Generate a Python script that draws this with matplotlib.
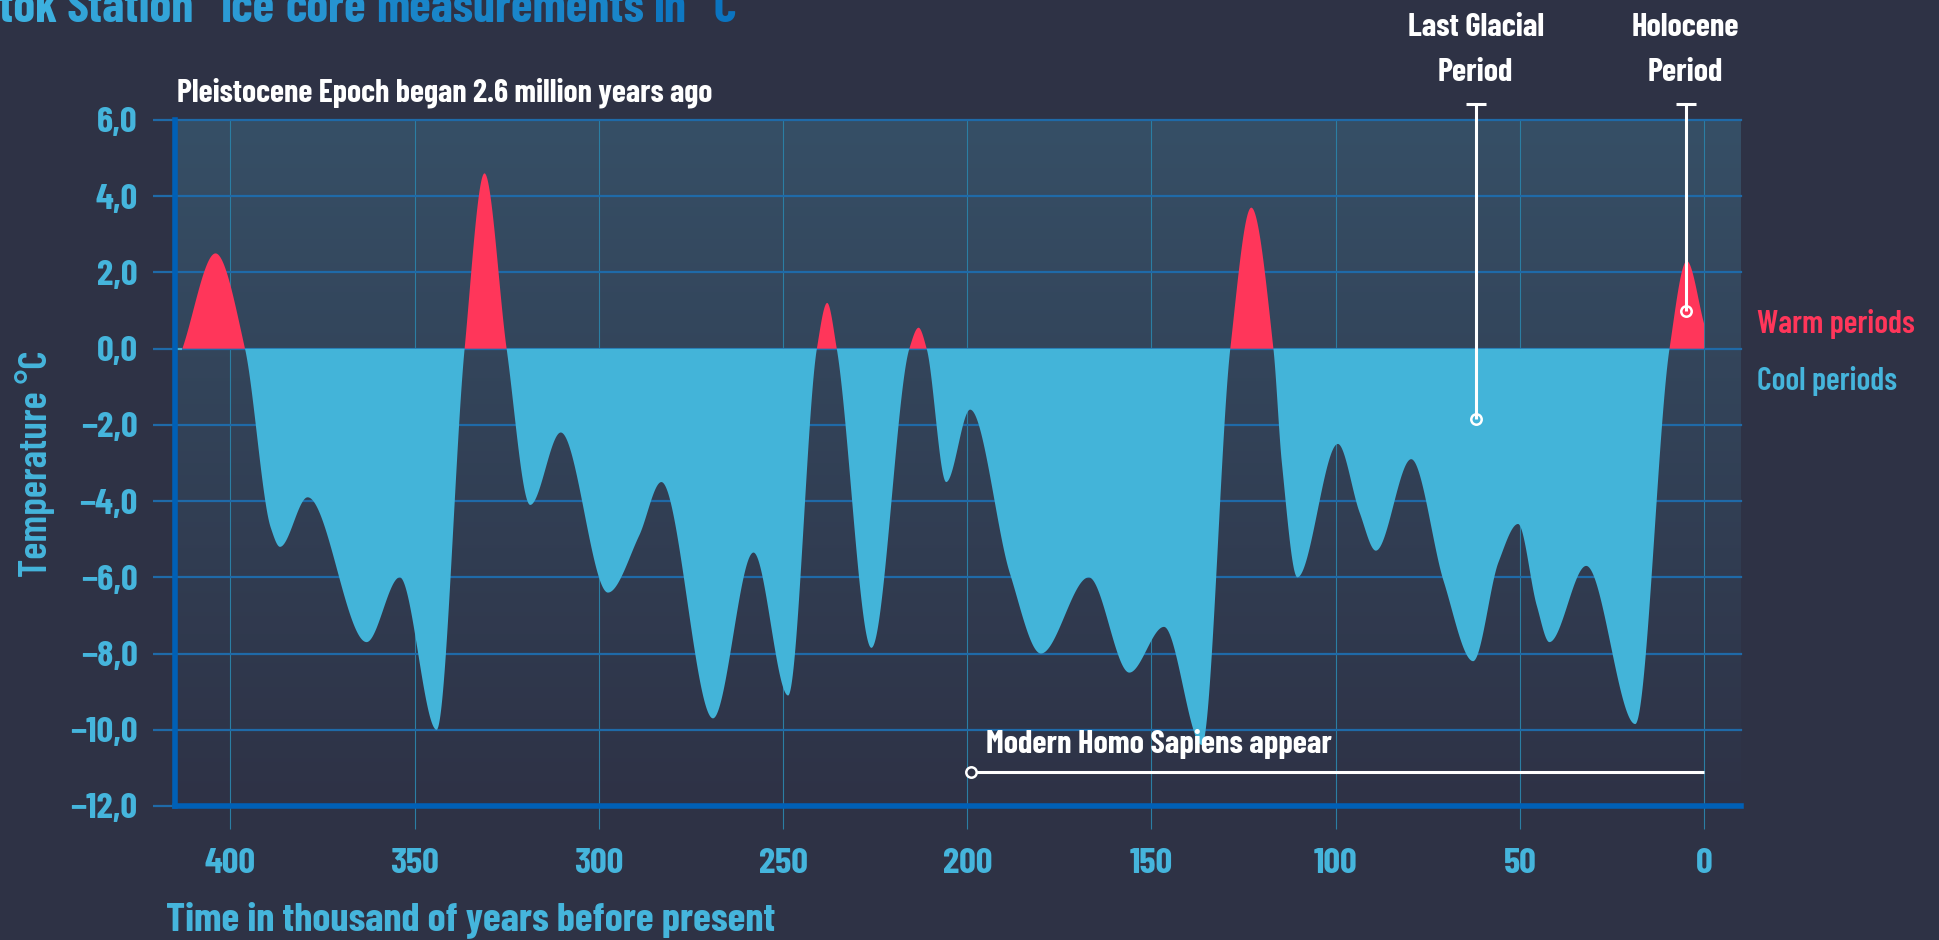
import numpy as np
import matplotlib
matplotlib.use("Agg")
import matplotlib.pyplot as plt
from matplotlib import font_manager as fm
from matplotlib.colors import LinearSegmentedColormap, to_rgb

# ---------------- data ----------------
years = [413, 404, 396, 389, 386.5, 379, 363, 354, 344, 336.4, 331, 325, 318.6,
         310.3, 297.5, 289, 283, 269, 258, 248.6, 240.8, 238, 235.4, 226, 215.7,
         213.2, 211, 205.7, 199.2, 188.4, 180, 167, 156, 146.6, 136.3, 128.6,
         122.9, 116.9, 114.6, 110.4, 99.4, 93.5, 89.1, 79.5, 70.7, 62.7, 55.8,
         50.5, 45.4, 42, 32, 18.7, 9.4, 4.7, 0]
temps = [0, 2.5, 0, -4.7, -5.2, -3.9, -7.7, -6.0, -10.0, 0, 4.6, 0, -4.1,
         -2.2, -6.4, -4.9, -3.5, -9.7, -5.35, -9.1, 0, 1.2, 0, -7.85, 0,
         0.55, 0, -3.5, -1.6, -5.9, -8.0, -6.0, -8.5, -7.3, -10.4, 0,
         3.7, 0, -3.0, -6.0, -2.5, -4.3, -5.3, -2.9, -6.1, -8.2, -5.6,
         -4.6, -6.75, -7.7, -5.7, -9.85, 0, 2.3, 0.65]
x_ticks = [400, 350, 300, 250, 200, 150, 100, 50, 0]
y_ticks = [6, 4, 2, 0, -2, -4, -6, -8, -10, -12]
y_tick_labels = ["6,0", "4,0", "2,0", "0,0", "\u22122,0", "\u22124,0", "\u22126,0",
                 "\u22128,0", "\u221210,0", "\u221212,0"]
title = "\"Vostok Station\" Ice core measurements in \u00b0C"
x_label = "Time in thousand of years before present"
y_label = "Temperature \u00b0C"
legend_labels = ["Warm periods", "Cool periods"]
pleistocene_text = "Pleistocene Epoch began 2.6 million years ago"
sapiens_text = "Modern Homo Sapiens appear"
glacial_lines = ["Last Glacial", "Period"]
holocene_lines = ["Holocene", "Period"]
glacial_x, glacial_y = 62, -1.85
holocene_x, holocene_y = 5, 1.0
sapiens_x, sapiens_y = 199, -11.1
x_range = (415, -10)
y_range = (-12, 6)

# ---------------- style ----------------
BG = "#2e3245"
PLOT_TOP = "#364f66"
PLOT_BOTTOM = "#2e3246"
HGRID = "#1f6aa8"
VGRID = "#2b7ea3"
SPINE = "#0060b6"
BLUE = "#43b4d9"
RED = "#ff365a"
LBLUE = "#45b5dc"
TITLE_L = "#41b6e2"
TITLE_R = "#0a72bf"

names = {f.name for f in fm.fontManager.ttflist}
cands = ["Barlow Condensed", "Roboto Condensed", "Liberation Sans Narrow", "DejaVu Sans"]
FONT = next((c for c in cands if c in names), "DejaVu Sans")
plt.rcParams["font.family"] = [FONT, "DejaVu Sans"]


def monotone_curve(xs, ys, n=4000):
    xs = np.asarray(xs, float)
    ys = np.asarray(ys, float)
    o = np.argsort(xs)
    xs, ys = xs[o], ys[o]
    h = np.diff(xs)
    d = np.diff(ys) / h
    m = np.zeros_like(ys)
    for i in range(1, len(xs) - 1):
        if d[i - 1] * d[i] > 0:
            w1 = 2 * h[i] + h[i - 1]
            w2 = h[i] + 2 * h[i - 1]
            m[i] = (w1 + w2) / (w1 / d[i - 1] + w2 / d[i])
        else:
            m[i] = 0.0
    m[0] = d[0]
    m[-1] = d[-1]
    xx = np.linspace(xs[0], xs[-1], n)
    idx = np.clip(np.searchsorted(xs, xx) - 1, 0, len(xs) - 2)
    t = (xx - xs[idx]) / h[idx]
    h00 = 2 * t**3 - 3 * t**2 + 1
    h10 = t**3 - 2 * t**2 + t
    h01 = -2 * t**3 + 3 * t**2
    h11 = t**3 - t**2
    yy = h00 * ys[idx] + h10 * h[idx] * m[idx] + h01 * ys[idx + 1] + h11 * h[idx] * m[idx + 1]
    return xx, yy


W, H = 1939, 940
fig = plt.figure(figsize=(W / 100, H / 100), dpi=100, facecolor=BG)
ax = fig.add_axes([175 / W, 1 - 806 / H, (1741 - 175) / W, (806 - 120) / H])
ax.set_facecolor(BG)

grad = np.linspace(0, 1, 256).reshape(-1, 1)
cmap = LinearSegmentedColormap.from_list("bg", [PLOT_BOTTOM, PLOT_TOP])
ax.imshow(grad, cmap=cmap, extent=[0, 1, 0, 1], transform=ax.transAxes,
          aspect="auto", origin="lower", zorder=0, interpolation="bilinear")

xx, yy = monotone_curve(years, temps)
ax.fill_between(xx, yy, 0, where=yy >= 0, interpolate=True, color=RED, lw=0, zorder=2)
ax.fill_between(xx, yy, 0, where=yy <= 0, interpolate=True, color=BLUE, lw=0, zorder=2)
ax.hlines(0, x_range[0], years[0], color=BLUE, lw=1.5, zorder=2)

ax.set_xlim(*x_range)
ax.set_ylim(*y_range)
ax.set_xticks(x_ticks)
ax.set_xticklabels([str(v) for v in x_ticks])
ax.set_yticks(y_ticks)
ax.set_yticklabels(y_tick_labels)

ax.set_axisbelow(True)
ax.grid(axis="y", color=HGRID, lw=1.6, zorder=1)
ax.grid(axis="x", color=VGRID, lw=0.8, zorder=1)
for gl in ax.get_ygridlines():
    gl.set_clip_on(False)

ax.tick_params(axis="y", direction="out", length=16, width=1.6, color=HGRID, pad=11,
               labelsize=26.5, labelcolor=LBLUE)
ax.tick_params(axis="x", direction="out", length=16.5, width=0.8, color=VGRID, pad=14,
               labelsize=26.5, labelcolor=LBLUE)
for lab in ax.get_xticklabels() + ax.get_yticklabels():
    lab.set_fontweight("bold")

for s in ["top", "right"]:
    ax.spines[s].set_visible(False)
for s in ["left", "bottom"]:
    ax.spines[s].set_color(SPINE)
    ax.spines[s].set_linewidth(4)
    ax.spines[s].set_zorder(3)

# annotations
ANN_FS = 23.3
ann = dict(color="white", lw=2.2, zorder=6, clip_on=False, solid_capstyle="butt")
for xv, yv, lines in [(glacial_x, glacial_y, glacial_lines),
                      (holocene_x, holocene_y, holocene_lines)]:
    ax.plot([xv, xv], [6.42, yv], **ann)
    ax.plot([xv], [6.42], marker="_", ms=14, mew=2.2, color="white", zorder=6, clip_on=False)
    ax.plot([xv], [yv], marker="o", ms=7.5, mew=1.8, mfc="none", mec="white", zorder=7,
            clip_on=False)
    ax.text(xv, 8.2, lines[0], ha="center", va="baseline", color="white", fontsize=ANN_FS,
            fontweight="bold")
    ax.text(xv, 7.02, lines[1], ha="center", va="baseline", color="white", fontsize=ANN_FS,
            fontweight="bold")

ax.plot([sapiens_x, 0], [sapiens_y, sapiens_y], **ann)
ax.plot([sapiens_x], [sapiens_y], marker="o", ms=7.5, mew=1.8, mfc=BG, mec="white",
        zorder=7, clip_on=False)
ax.text(195, -10.6, sapiens_text, ha="left", va="baseline",
        color="white", fontsize=ANN_FS, fontweight="bold", zorder=8)

ax.text(414.5, 6.48, pleistocene_text, ha="left", va="baseline", color="white",
        fontsize=23, fontweight="bold")

# title with a left-to-right colour gradient (word by word)
renderer = fig.canvas.get_renderer()
TITLE_FS = 35.5
title_right = 737
title_base = 1 - 22 / H


def text_width(s):
    t = fig.text(0, 0, s, fontsize=TITLE_FS, fontweight="bold")
    w = t.get_window_extent(renderer).width
    t.remove()
    return w


total_w = text_width(title)
x0 = title_right - total_w
words = title.split(" ")
cl, cr = np.array(to_rgb(TITLE_L)), np.array(to_rgb(TITLE_R))
for i, wd in enumerate(words):
    prefix_w = text_width(" ".join(words[:i + 1]))
    xw = x0 + prefix_w - text_width(wd)
    frac = (xw - x0 + 0.5 * text_width(wd)) / total_w
    col = tuple(cl + (cr - cl) * frac)
    fig.text(xw / W, title_base, wd, ha="left", va="baseline", color=col,
             fontsize=TITLE_FS, fontweight="bold")

fig.text(166 / W, 1 - 930 / H, x_label, ha="left", va="baseline", color=LBLUE,
         fontsize=29.3, fontweight="bold")
fig.text(35 / W, 1 - 464 / H, y_label, rotation=90, ha="center", va="center",
         color=LBLUE, fontsize=29, fontweight="semibold")
fig.text(1757 / W, 1 - 333 / H, legend_labels[0], ha="left", va="baseline", color=RED,
         fontsize=23, fontweight="semibold")
fig.text(1757 / W, 1 - 390 / H, legend_labels[1], ha="left", va="baseline", color=LBLUE,
         fontsize=23, fontweight="semibold")

fig.savefig("out.png", dpi=100, facecolor=BG)
